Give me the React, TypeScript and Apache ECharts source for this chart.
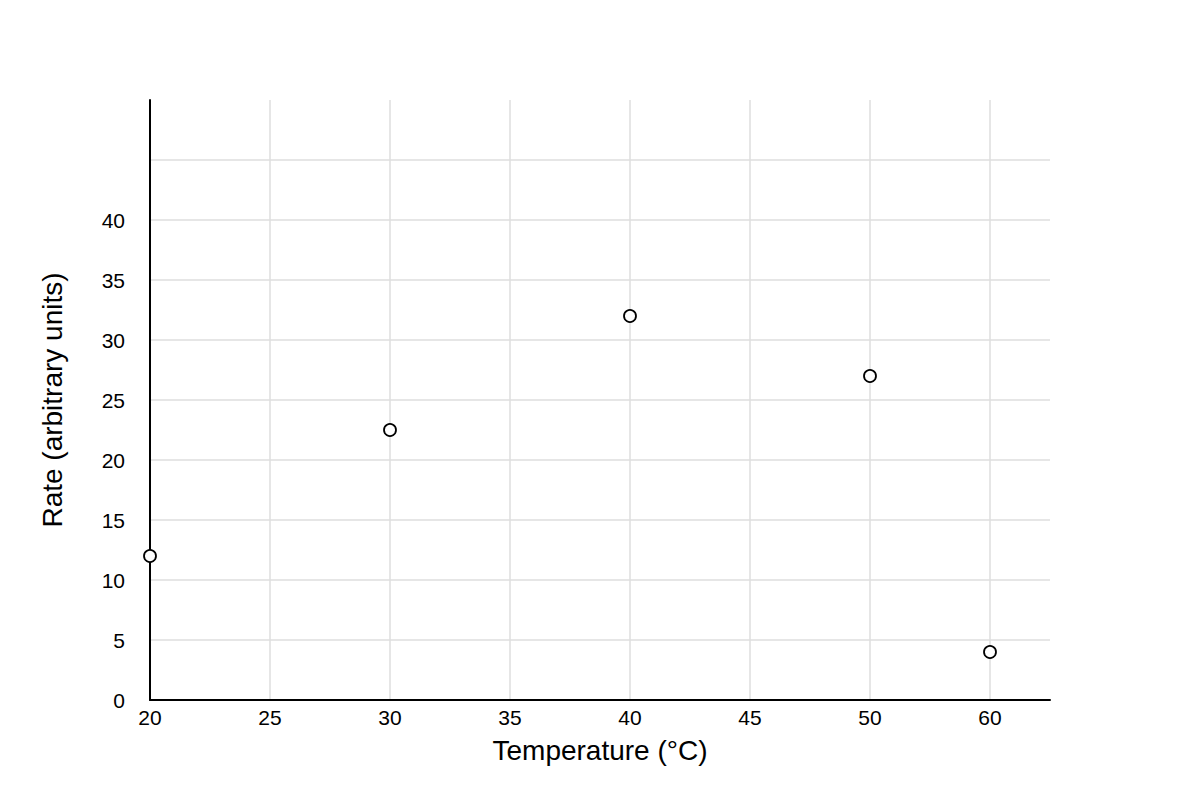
import React, { useEffect, useRef } from 'react';
import * as echarts from 'echarts';

// tick labels along the temperature axis (note: no 55, the axis jumps 50 -> 60)
const xTickLabels = ['20', '25', '30', '35', '40', '45', '50', '60'];
const temperatures = [20, 30, 40, 50, 60];
const rates = [12, 22.5, 32, 27, 4];
const yMax = 50;
const yLabelMax = 40;

const FONT = '"Liberation Sans", Arial, sans-serif';

const App: React.FC = () => {
  const chartRef = useRef<HTMLDivElement>(null);

  useEffect(() => {
    if (!chartRef.current) return;
    const chart = echarts.init(chartRef.current, undefined, { renderer: 'svg' });

    const points = temperatures.map((t, i) => [xTickLabels.indexOf(String(t)), rates[i]]);

    const option: echarts.EChartsOption = {
      animation: false,
      backgroundColor: '#fff',
      textStyle: { fontFamily: FONT },
      grid: { left: 150, right: 150, top: 100, bottom: 100 },
      xAxis: {
        type: 'value',
        min: 0,
        max: xTickLabels.length - 0.5,
        interval: 1,
        name: 'Temperature (°C)',
        nameLocation: 'middle',
        nameGap: 36,
        nameTextStyle: { color: '#000', fontSize: 28, fontFamily: FONT },
        axisLine: { show: true, onZero: false, lineStyle: { color: '#000', width: 2 } },
        axisTick: { show: false },
        axisLabel: {
          color: '#000',
          fontSize: 21,
          fontFamily: FONT,
          margin: 7,
          showMaxLabel: false,
          formatter: (v: number) => (Number.isInteger(v) && xTickLabels[v] !== undefined ? xTickLabels[v] : '')
        },
        splitLine: {
          show: true,
          showMinLine: false,
          showMaxLine: false,
          lineStyle: { color: '#dedede', width: 1.5 }
        }
      },
      yAxis: {
        type: 'value',
        min: 0,
        max: yMax,
        interval: 5,
        name: 'Rate (arbitrary units)',
        nameLocation: 'middle',
        nameGap: 84,
        nameTextStyle: { color: '#000', fontSize: 28, fontFamily: FONT },
        axisLine: { show: true, onZero: false, lineStyle: { color: '#000', width: 2 } },
        axisTick: { show: false },
        axisLabel: {
          color: '#000',
          fontSize: 21,
          fontFamily: FONT,
          margin: 25,
          padding: [0, 0, 7, 0],
          formatter: (v: number) => (v <= yLabelMax ? String(v) : '')
        },
        splitLine: {
          show: true,
          showMinLine: false,
          showMaxLine: false,
          lineStyle: { color: '#dedede', width: 1.5 }
        }
      },
      series: [
        {
          type: 'scatter',
          data: points,
          symbol: 'circle',
          symbolSize: 12,
          itemStyle: { color: '#fff', borderColor: '#000', borderWidth: 1.8, opacity: 1 },
          z: 5
        }
      ]
    };

    chart.setOption(option);

    return () => {
      chart.dispose();
    };
  }, []);

  return (
    <div
      ref={chartRef}
      style={{ position: 'absolute', left: 0, top: 0, width: 1200, height: 800 }}
    />
  );
};

export default App;
